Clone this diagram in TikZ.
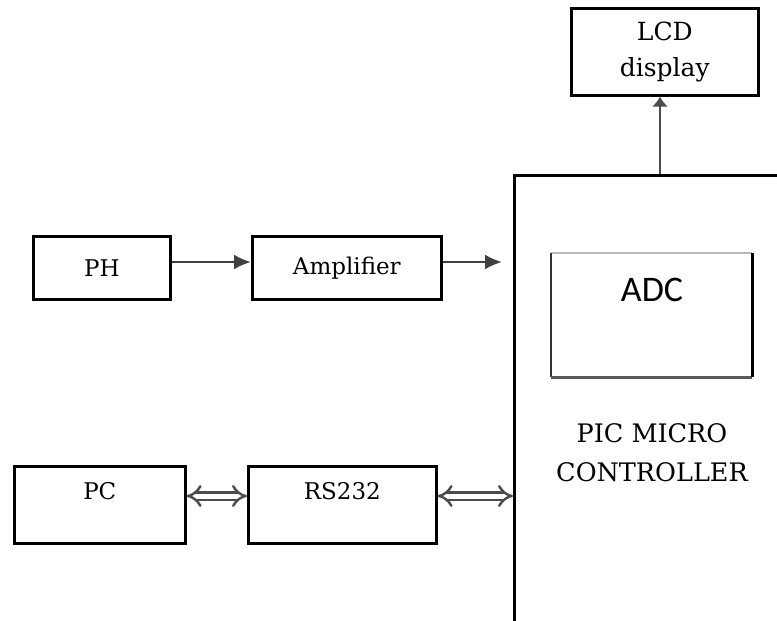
\documentclass[tikz,border=0pt]{standalone}
\usepackage{fontspec}
\setmainfont{DejaVu Serif}
\newfontfamily\adcfont{Carlito}
\usetikzlibrary{arrows.meta}
\tikzset{
  blk/.style={draw=black, line width=2.6pt, inner sep=0pt},
  lbl/.style={inner sep=0pt, font=\fontsize{23}{28}\selectfont},
  sarrow/.style={draw=black!75, line width=2.6pt, -{Latex[length=17pt,width=15pt]}},
  darrow/.style={draw=black!70, line width=2.4pt, double=white, double distance=5pt, {Implies}-{Implies}}
}
\begin{document}
\begin{tikzpicture}[x=1pt,y=-1pt]
\clip (0,0) rectangle (777,621);
\fill[white] (0,0) rectangle (777,621);
% boxes
\node[blk, anchor=north west, minimum width=187, minimum height=87, align=center,
      font=\fontsize{25}{36}\selectfont] (lcd) at (570,7) {LCD\\display};
\node[blk, anchor=north west, minimum width=320, minimum height=470] (micro) at (513,174) {};
\node[blk, anchor=north west, minimum width=137, minimum height=63, font=\fontsize{23}{28}\selectfont] (ph) at (32,235) {PH};
\node[blk, anchor=north west, minimum width=189, minimum height=63, font=\fontsize{23}{28}\selectfont] (amp) at (251,235) {Amplifier};
\node[blk, anchor=north west, minimum width=171, minimum height=77] (pc) at (13,465) {};
\node[blk, anchor=north west, minimum width=188, minimum height=77] (rs) at (247,465) {};
\node[lbl] (pct) at (pc.center |- 0,491) {PC};
\node[lbl] (rst) at (rs.center |- 0,491) {RS232};
% ADC box with shaded borders
\node[anchor=north west, minimum width=201, minimum height=124, inner sep=0pt] (adc) at (551,253) {};
\draw[gray!55, line width=2pt] (adc.north west) -- (adc.north east);
\draw[black!80, line width=2pt] (adc.north west) -- (adc.south west);
\draw[black!65, line width=2.5pt] (adc.south west) -- (adc.south east);
\draw[black, line width=3pt] (adc.north east) -- (adc.south east);
\node[inner sep=0pt, font=\adcfont\fontsize{36}{40}\selectfont] (adct) at (652,290) {ADC};
\node[inner sep=0pt, align=center, font=\fontsize{25.5}{39}\selectfont] (pict) at (652,453) {PIC MICRO\\CONTROLLER};
% connectors
\coordinate (ya) at (0,262);
\coordinate (yb) at (0,496);
\coordinate (ain) at (502,262);
\coordinate (mtop) at (660,174);
\draw[sarrow] (ph.east |- ya) -- (amp.west |- ya);
\draw[sarrow] (amp.east |- ya) -- (ain);
\draw[draw=black!70, line width=2.6pt, -{Latex[length=10pt,width=16pt]}] (mtop) -- (mtop |- lcd.south);
\draw[darrow] (pc.east |- yb) -- (rs.west |- yb);
\draw[darrow] (rs.east |- yb) -- (micro.west |- yb);
\end{tikzpicture}
\end{document}
